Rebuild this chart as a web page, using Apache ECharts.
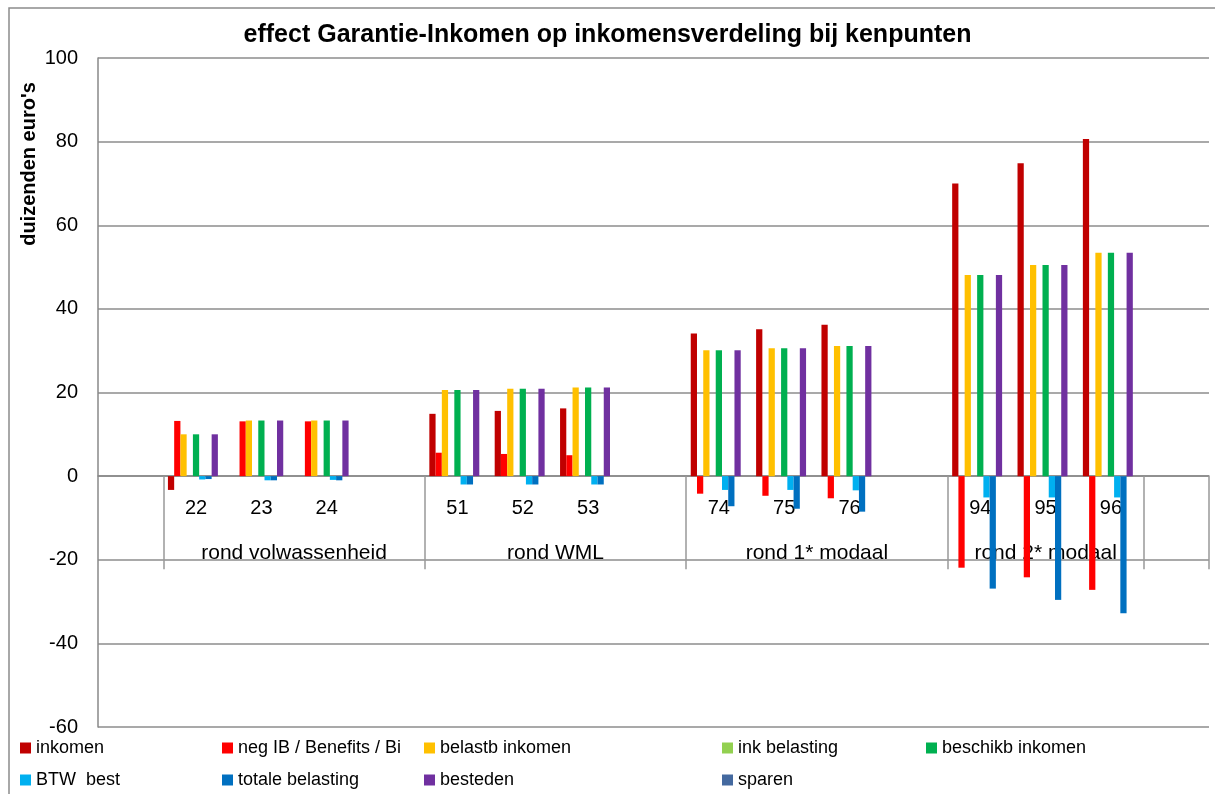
<!DOCTYPE html>
<html>
<head>
  <meta charset="UTF-8">
  <title>effect Garantie-Inkomen</title>
  <style>
    html, body { margin: 0; padding: 0; background: #fff; }
    #chart { width: 1215px; height: 794px; }
  </style>
  <script src="https://cdn.jsdelivr.net/npm/echarts@6/dist/echarts.min.js"></script>
</head>
<body>
<div id="chart"></div>
<script type="text/javascript">
  // categorieën (leeg = lege kolom zoals in het origineel)
  const categories = ['', '22', '23', '24', '', '51', '52', '53', '', '74', '75', '76', '', '94', '95', '96', ''];
  const groups = ['rond volwassenheid', 'rond WML', 'rond 1* modaal', 'rond 2* modaal'];
  const groupLabelIdx = [6, 14, 22, 29];        // posities op de halve-stap as
  const groupTickIdx = [2, 10, 18, 26, 32, 34]; // scheidingslijnen
  const yTicks = [-60, -40, -20, 0, 20, 40, 60, 80, 100];

  const inkomen       = [null, -3.3, 0, 0, null, 14.9, 15.6, 16.2, null, 34.1, 35.1, 36.2, null, 70.0, 74.8, 80.6, null];
  const negIB         = [null, 13.2, 13.1, 13.1, null, 5.6, 5.3, 5.0, null, -4.2, -4.7, -5.3, null, -21.9, -24.2, -27.2, null];
  const belastbInk    = [null, 10.0, 13.3, 13.3, null, 20.6, 20.9, 21.2, null, 30.1, 30.6, 31.1, null, 48.1, 50.5, 53.4, null];
  const inkBelasting  = [null, 0, 0, 0, null, 0, 0, 0, null, 0, 0, 0, null, 0, 0, 0, null];
  const beschikbInk   = [null, 10.0, 13.3, 13.3, null, 20.6, 20.9, 21.2, null, 30.1, 30.6, 31.1, null, 48.1, 50.5, 53.4, null];
  const btwBest       = [null, -0.8, -1.0, -0.9, null, -2.0, -2.0, -2.0, null, -3.3, -3.3, -3.4, null, -5.1, -5.1, -5.1, null];
  const totaleBel     = [null, -0.7, -1.0, -1.0, null, -2.0, -2.0, -2.0, null, -7.2, -7.8, -8.5, null, -26.9, -29.6, -32.8, null];
  const besteden      = [null, 10.0, 13.3, 13.3, null, 20.6, 20.9, 21.2, null, 30.1, 30.6, 31.1, null, 48.1, 50.5, 53.4, null];
  const sparen        = [null, 0, 0, 0, null, 0, 0, 0, null, 0, 0, 0, null, 0, 0, 0, null];

  const seriesList = [
    ['inkomen', inkomen, '#C00000'],
    ['neg IB / Benefits / Bi', negIB, '#FF0000'],
    ['belastb inkomen', belastbInk, '#FFC000'],
    ['ink belasting', inkBelasting, '#92D050'],
    ['beschikb inkomen', beschikbInk, '#00B050'],
    ['BTW  best', btwBest, '#00B0F0'],
    ['totale belasting', totaleBel, '#0070C0'],
    ['besteden', besteden, '#7030A0'],
    ['sparen', sparen, '#44699F']
  ];

  // halve-stap as voor de groepslabels
  const halfSteps = [];
  for (let i = 0; i <= categories.length * 2; i++) halfSteps.push('h' + i);

  const font = 'Liberation Sans';
  const yMin = yTicks[0], yMax = yTicks[yTicks.length - 1];
  const plotTop = 58, plotBottom = 727, plotLeft = 98, plotRight = 1209;
  const zeroY = plotBottom - (0 - yMin) / (yMax - yMin) * (plotBottom - plotTop);

  // hoofdgrid + twee grids die eindigen op de nullijn (voor de labels)
  const mainGrid = { left: plotLeft, right: 1215 - plotRight, top: plotTop, bottom: 794 - plotBottom, outerBoundsMode: 'none' };
  const zeroGrid = { left: plotLeft, right: 1215 - plotRight, top: plotTop, height: zeroY - plotTop, outerBoundsMode: 'none' };

  const legendCols = [
    { left: 20, data: ['inkomen', 'BTW  best'] },
    { left: 222, data: ['neg IB / Benefits / Bi', 'totale belasting'] },
    { left: 424, data: ['belastb inkomen', 'besteden'] },
    { left: 722, data: ['ink belasting', 'sparen'] },
    { left: 926, data: ['beschikb inkomen'] }
  ];

  const myChart = echarts.init(document.getElementById('chart'));

  const option = {
    animation: false,
    textStyle: { fontFamily: font },
    title: {
      text: 'effect Garantie-Inkomen op inkomensverdeling bij kenpunten',
      left: 'center',
      top: 18,
      textStyle: { fontSize: 25, fontWeight: 'bold', color: '#000', fontFamily: font }
    },
    legend: legendCols.map(function (c) {
      return {
        left: c.left,
        top: 738,
        orient: 'vertical',
        icon: 'rect',
        itemWidth: 11,
        itemHeight: 11,
        itemGap: 12,
        padding: 0,
        data: c.data,
        textStyle: { fontSize: 18, lineHeight: 20, color: '#000', fontFamily: font }
      };
    }),
    graphic: [
      {
        type: 'rect',
        shape: { x: 9, y: 8, width: 1230, height: 820 },
        style: { fill: null, stroke: '#8c8c8c', lineWidth: 1.5 },
        silent: true
      },
      {
        type: 'text',
        x: 29,
        y: 164,
        rotation: Math.PI / 2,
        style: {
          text: "duizenden euro's",
          font: 'bold 20px "Liberation Sans"',
          fill: '#000',
          align: 'center',
          verticalAlign: 'middle'
        }
      }
    ],
    grid: [mainGrid, zeroGrid, zeroGrid],
    xAxis: [
      {
        type: 'category',
        gridIndex: 0,
        data: categories,
        axisLine: { onZero: true, lineStyle: { color: '#888', width: 1.5 } },
        axisTick: { show: false },
        axisLabel: { show: false },
        splitLine: { show: false }
      },
      {
        type: 'category',
        gridIndex: 1,
        data: categories,
        axisLine: { show: false },
        axisTick: { show: false },
        axisLabel: { interval: 0, margin: 22, fontSize: 20, color: '#000' }
      },
      {
        type: 'category',
        gridIndex: 2,
        data: halfSteps,
        boundaryGap: false,
        axisLine: { show: false },
        axisTick: {
          show: true,
          length: 93,
          interval: function (i) { return groupTickIdx.indexOf(i) >= 0; },
          lineStyle: { color: '#999', width: 1.5 }
        },
        axisLabel: {
          margin: 67,
          fontSize: 21,
          color: '#000',
          interval: function (i) { return groupLabelIdx.indexOf(i) >= 0; },
          formatter: function (v, i) {
            const k = groupLabelIdx.indexOf(i);
            return k >= 0 ? groups[k] : '';
          }
        }
      }
    ],
    yAxis: [
      {
        type: 'value',
        gridIndex: 0,
        min: yMin,
        max: yMax,
        interval: 20,
        axisLine: { show: true, lineStyle: { color: '#888', width: 1.5 } },
        axisTick: { show: false },
        axisLabel: { fontSize: 20, color: '#000', margin: 20 },
        splitLine: { lineStyle: { color: '#8c8c8c', width: 1.5 } }
      },
      { type: 'value', gridIndex: 1, min: 0, max: 1, show: false },
      { type: 'value', gridIndex: 2, min: 0, max: 1, show: false }
    ],
    series: seriesList.map(function (s) {
      return {
        name: s[0],
        type: 'bar',
        xAxisIndex: 0,
        yAxisIndex: 0,
        data: s[1],
        barGap: '0%',
        barCategoryGap: '14%',
        itemStyle: { color: s[2] }
      };
    })
  };

  myChart.setOption(option);
</script>
</body>
</html>
